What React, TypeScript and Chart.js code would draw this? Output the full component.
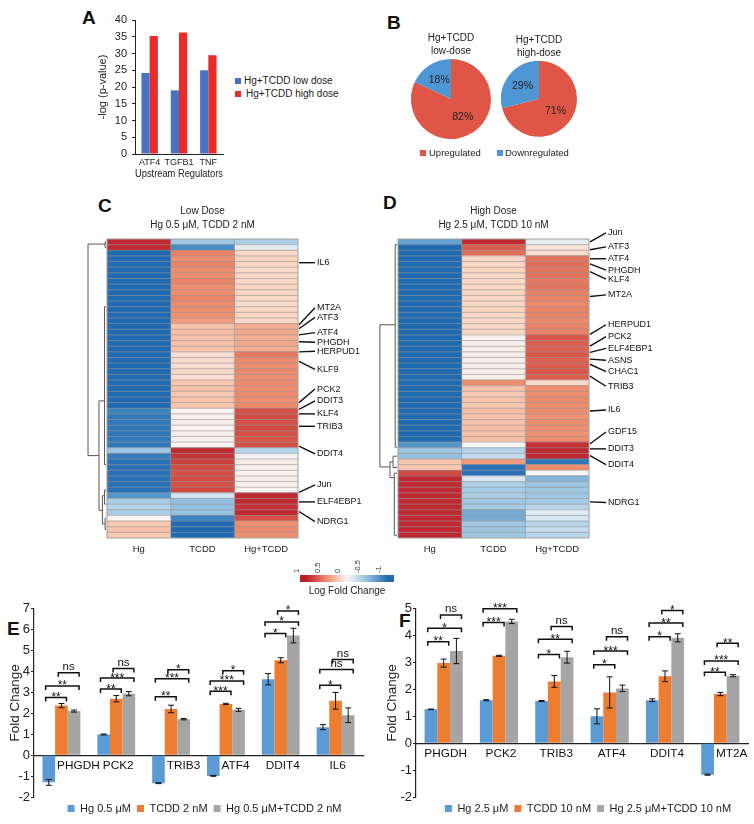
import React, { useEffect, useRef } from "react";
import { Chart, registerables } from "chart.js";
Chart.register(...registerables);

const FONT = "'Liberation Sans', Arial, Helvetica, sans-serif";
Chart.defaults.font.family = FONT;
Chart.defaults.color = "#222";

// ---------- Panel A ----------
const regulators = ["ATF4", "TGFB1", "TNF"];
const aSeriesNames = ["Hg+TCDD low dose", "Hg+TCDD high dose"];
const aLowDose = [24.2, 19.0, 25.0];
const aHighDose = [35.2, 36.3, 29.5];
const A_BLUE = "#4a72c4";
const A_RED = "#ec2a26";

// ---------- Panel B ----------
const pieLabels = ["Upregulated", "Downregulated"];
const pieLowDose = [82, 18];
const pieHighDose = [71, 29];
const PIE_RED = "#e05646";
const PIE_BLUE = "#4f96d4";

// ---------- Panels C / D (heatmaps) ----------
const heatCols = ["Hg", "TCDD", "Hg+TCDD"];
const lowHg = [0.95, 0.95, -1, -1, -1, -1, -1, -1, -1, -1, -1, -1, -1, -1, -1, -1, -1, -1, -1, -1, -1, -1, -1, -1, -1, -1, -1, -1, -1, -1, -0.8, -0.9, -0.9, -0.9, -0.9, -0.9, -0.9, -0.45, -0.85, -0.95, -0.95, -0.95, -0.95, -0.95, -0.95, -0.7, -0.4, -0.35, -0.4, 0.0, 0.28, 0.3, 0.28];
const lowTCDD = [-0.45, -0.75, 0.55, 0.5, 0.55, 0.5, 0.5, 0.55, 0.5, 0.5, 0.55, 0.5, 0.5, 0.48, 0.45, 0.3, 0.32, 0.3, 0.3, 0.3, 0.15, 0.18, 0.15, 0.18, 0.15, 0.28, 0.3, 0.28, 0.3, 0.28, 0.02, 0.03, 0.05, 0.02, 0.04, 0.03, 0.02, 0.95, 0.9, 0.85, 0.8, 0.78, 0.8, 0.78, 0.82, -0.25, -0.5, -0.5, -0.48, -0.8, -1, -1, -1];
const lowMix = [-0.4, -0.12, 0.2, 0.22, 0.2, 0.18, 0.2, 0.2, 0.22, 0.2, 0.2, 0.18, 0.2, 0.22, 0.2, 0.38, 0.4, 0.38, 0.4, 0.38, 0.6, 0.52, 0.5, 0.52, 0.5, 0.52, 0.5, 0.52, 0.5, 0.52, 0.78, 0.8, 0.78, 0.8, 0.78, 0.76, 0.78, -0.35, -0.05, 0.05, 0.04, 0.03, 0.05, 0.04, 0.02, 0.95, 0.95, 0.92, 0.95, 0.78, 0.5, 0.52, 0.5];

const highHg = [-0.65, -1, -1, -1, -1, -1, -1, -1, -1, -1, -1, -1, -1, -1, -1, -1, -1, -1, -1, -1, -1, -1, -1, -1, -1, -1, -1, -1, -1, -1, -1, -1, -1, -1, -1, -1, -0.7, -0.45, -0.5, 0.3, 0.28, 0.8, 0.95, 0.95, 0.95, 0.95, 0.95, 0.95, 0.95, 0.95, 0.95, 0.95, 0.95];
const highTCDD = [0.95, 0.72, 0.65, 0.2, 0.2, 0.22, 0.2, 0.2, 0.2, 0.22, 0.2, 0.2, 0.22, 0.2, 0.2, 0.2, 0.22, 0.02, 0.05, 0.06, 0.05, 0.06, 0.05, 0.06, 0.05, 0.5, 0.3, 0.28, 0.3, 0.28, 0.32, 0.3, 0.3, 0.32, 0.3, 0.32, 0.0, -0.35, -0.3, 0.45, -0.95, -0.95, -0.2, -0.4, -0.42, -0.4, -0.45, -0.42, -0.6, -0.6, -0.45, -0.45, -0.45];
const highMix = [-0.12, 0.12, 0.15, 0.62, 0.65, 0.62, 0.62, 0.6, 0.62, 0.55, 0.55, 0.52, 0.55, 0.55, 0.52, 0.55, 0.55, 0.75, 0.72, 0.7, 0.75, 0.7, 0.72, 0.75, 0.72, 0.18, 0.5, 0.5, 0.52, 0.5, 0.5, 0.48, 0.5, 0.5, 0.48, 0.5, 0.92, 0.95, 0.95, -0.9, 0.5, 0.0, -0.55, -0.45, -0.45, -0.45, -0.42, -0.35, -0.15, -0.2, -0.35, -0.3, -0.35];

// gene label: [name, row it points to, row where the label sits]
const lowGenes: [string, number, number][] = [
  ["IL6", 4.2, 4.2], ["MT2A", 15.2, 12.2], ["ATF3", 15.9, 13.9], ["ATF4", 17, 16.6],
  ["PHGDH", 18.2, 18.3], ["HERPUD1", 20, 19.9], ["KLF9", 21.7, 23.1], ["PCK2", 29, 26.6],
  ["DDIT3", 30.2, 28.7], ["KLF4", 31, 31], ["TRIB3", 33.2, 33.2], ["DDIT4", 36.7, 38.1],
  ["Jun", 44.9, 43.6], ["ELF4EBP1", 46.6, 46.6], ["NDRG1", 48.3, 50.1],
];
const highGenes: [string, number, number][] = [
  ["Jun", 0.5, -1.1], ["ATF3", 1.9, 1.4], ["ATF4", 3.5, 3.5], ["PHGDH", 4.4, 5.5],
  ["KLF4", 5.8, 7.1], ["MT2A", 10.2, 9.9], ["HERPUD1", 16.9, 15.2], ["PCK2", 19, 17.3],
  ["ELF4EBP1", 20.1, 19.4], ["ASNS", 21.3, 21.5], ["CHAC1", 22.2, 23.5], ["TRIB3", 24.3, 26.1],
  ["IL6", 30.5, 30.3], ["GDF15", 36.3, 34.2], ["DDIT3", 37.2, 37.2], ["DDIT4", 38.4, 40],
  ["NDRG1", 46.6, 46.7],
];
// dendrogram links: [top row, bottom row, merge height, top child height, bottom child height]
const lowDendro: number[][] = [
  [0.9, 38.4, 1.0, 0.05, 0.39], [28.7, 48.1, 0.39, 0.08, 0.2], [12, 40, 0.08, 0, 0],
  [45.5, 50.5, 0.2, 0.08, 0.05], [44.5, 47, 0.08, 0, 0], [49.5, 51.5, 0.05, 0, 0], [0.5, 1.5, 0.05, 0, 0],
];
const highDendro: number[][] = [
  [15.2, 40.4, 0.95, 0.1, 0.39], [1, 36.9, 0.1, 0, 0], [39.5, 42.3, 0.39, 0.22, 0.15],
  [38.5, 40.5, 0.22, 0, 0], [41.5, 52.5, 0.15, 0, 0],
];
const colorbarTicks = [1, 0.5, 0, -0.5, -1];

// ---------- Panels E / F ----------
const seriesE = ["Hg 0.5 μM", "TCDD 2 nM", "Hg 0.5 μM+TCDD 2 nM"];
const genesE = ["PHGDH", "PCK2", "TRIB3", "ATF4", "DDIT4", "IL6"];
const eHg = [-1.3, 0.99, -1.34, -0.99, 3.63, 1.34];
const eHgErr = [0.14, 0.02, 0.02, 0.02, 0.27, 0.12];
const eTCDD = [2.37, 2.7, 2.21, 2.45, 4.54, 2.6];
const eTCDDErr = [0.1, 0.15, 0.18, 0.03, 0.12, 0.4];
const eMix = [2.11, 2.94, 1.72, 2.17, 5.72, 1.91];
const eMixErr = [0.05, 0.1, 0.03, 0.07, 0.35, 0.35];
// [category, series a, series b, bracket level, label]
const eSig: [number, number, number, number, string][] = [
  [0, 0, 1, 2.76, "**"], [0, 0, 2, 3.31, "**"], [0, 1, 2, 3.94, "ns"],
  [1, 0, 1, 3.16, "**"], [1, 0, 2, 3.69, "***"], [1, 1, 2, 4.14, "ns"],
  [2, 0, 1, 2.8, "**"], [2, 0, 2, 3.65, "***"], [2, 1, 2, 4.08, "*"],
  [3, 0, 1, 3.06, "***"], [3, 0, 2, 3.55, "***"], [3, 1, 2, 4.04, "*"],
  [4, 0, 1, 5.82, "*"], [4, 0, 2, 6.37, "*"], [4, 1, 2, 6.9, "*"],
  [5, 0, 1, 3.35, "*"], [5, 0, 2, 4.1, "ns"], [5, 1, 2, 4.58, "ns"],
];

const seriesF = ["Hg 2.5 μM", "TCDD 10 nM", "Hg 2.5 μM+TCDD 10 nM"];
const genesF = ["PHGDH", "PCK2", "TRIB3", "ATF4", "DDIT4", "MT2A"];
const fHg = [1.26, 1.6, 1.57, 1.0, 1.6, -1.17];
const fHgErr = [0.01, 0.02, 0.02, 0.28, 0.05, 0.02];
const fTCDD = [2.98, 3.25, 2.3, 1.89, 2.49, 1.83];
const fTCDDErr = [0.15, 0.02, 0.22, 0.58, 0.2, 0.06];
const fMix = [3.43, 4.53, 3.2, 2.04, 3.92, 2.51];
const fMixErr = [0.47, 0.08, 0.22, 0.12, 0.15, 0.04];
const fSig: [number, number, number, number, string][] = [
  [0, 0, 1, 3.77, "**"], [0, 0, 2, 4.28, "*"], [0, 1, 2, 4.77, "ns"],
  [1, 0, 1, 4.49, "***"], [1, 0, 2, 5.0, "***"], [1, 1, 2, 5.66, "**"],
  [2, 0, 1, 3.3, "*"], [2, 0, 2, 3.87, "**"], [2, 1, 2, 4.34, "ns"],
  [3, 0, 1, 2.92, "*"], [3, 0, 2, 3.43, "***"], [3, 1, 2, 3.96, "ns"],
  [4, 0, 1, 3.96, "*"], [4, 0, 2, 4.47, "**"], [4, 1, 2, 4.94, "*"],
  [5, 0, 1, 2.64, "**"], [5, 0, 2, 3.06, "***"], [5, 1, 2, 3.72, "**"],
];
const BAR_BLUE = "#5b9bd5";
const BAR_ORANGE = "#ed7d31";
const BAR_GRAY = "#a5a5a5";

// ---------- helpers ----------
const heatStops: [number, number[]][] = [
  [-1, [32, 106, 178]], [-0.75, [70, 140, 196]], [-0.5, [146, 192, 224]], [-0.25, [208, 227, 241]],
  [0, [248, 246, 245]], [0.25, [250, 208, 185]], [0.5, [239, 142, 110]], [0.75, [216, 86, 72]], [1, [186, 30, 45]],
];
function heatColor(v: number): string {
  if (v <= heatStops[0][0]) return `rgb(${heatStops[0][1].join(",")})`;
  for (let i = 1; i < heatStops.length; i++) {
    const [v1, c1] = heatStops[i];
    const [v0, c0] = heatStops[i - 1];
    if (v <= v1) {
      const t = (v - v0) / (v1 - v0);
      const c = c0.map((a, k) => Math.round(a + (c1[k] - a) * t));
      return `rgb(${c.join(",")})`;
    }
  }
  return `rgb(${heatStops[heatStops.length - 1][1].join(",")})`;
}

function heatPlugin(genes: [string, number, number][], dendro: number[][]) {
  return {
    id: "heatDecor",
    afterDatasetsDraw(chart: any) {
      const { ctx, chartArea: a, scales } = chart;
      const x = scales.x;
      const y = scales.y;
      const n = chart.data.labels.length;
      const rowH = y.getPixelForValue(1) - y.getPixelForValue(0);
      const top = y.getPixelForValue(0) - rowH / 2;
      const rowPx = (r: number) => top + r * rowH;
      ctx.save();
      ctx.strokeStyle = "rgba(150,150,150,0.9)";
      ctx.lineWidth = 0.7;
      ctx.beginPath();
      for (let i = 1; i < n; i++) {
        const yy = rowPx(i);
        ctx.moveTo(a.left, yy);
        ctx.lineTo(a.right, yy);
      }
      for (let c = 1; c < heatCols.length; c++) {
        const xx = x.getPixelForValue(c);
        ctx.moveTo(xx, a.top);
        ctx.lineTo(xx, a.bottom);
      }
      ctx.stroke();
      ctx.lineWidth = 1;
      ctx.strokeStyle = "rgba(160,160,160,1)";
      ctx.strokeRect(a.left, a.top, a.right - a.left, a.bottom - a.top);
      // dendrogram
      const hx = (h: number) => a.left - 1 - h * 18;
      ctx.strokeStyle = "#555";
      ctx.lineWidth = 1;
      ctx.beginPath();
      for (const [r1, r2, h, h1, h2] of dendro) {
        ctx.moveTo(hx(h1), rowPx(r1));
        ctx.lineTo(hx(h), rowPx(r1));
        ctx.lineTo(hx(h), rowPx(r2));
        ctx.lineTo(hx(h2), rowPx(r2));
      }
      ctx.stroke();
      // gene labels
      ctx.strokeStyle = "#111";
      ctx.lineWidth = 1.4;
      ctx.fillStyle = "#111";
      ctx.font = `9px ${FONT}`;
      ctx.textBaseline = "middle";
      ctx.textAlign = "left";
      for (const [name, r, lr] of genes) {
        ctx.beginPath();
        ctx.moveTo(a.right + 1, rowPx(r));
        ctx.lineTo(a.right + 17, rowPx(lr));
        ctx.stroke();
        ctx.fillText(name, a.right + 19, rowPx(lr));
      }
      ctx.restore();
    },
  };
}

function heatConfig(hg: number[], tc: number[], mix: number[], title: string[], genes: [string, number, number][], dendro: number[][], padL: number, padR: number) {
  const cols = [hg, tc, mix];
  return {
    type: "bar",
    data: {
      labels: hg.map((_, i) => String(i + 1)),
      datasets: cols.map((vals, c) => ({
        label: heatCols[c],
        data: vals.map(() => 1),
        backgroundColor: vals.map(heatColor),
        borderWidth: 0,
        barPercentage: 1,
        categoryPercentage: 1,
      })),
    },
    options: {
      indexAxis: "y",
      responsive: false,
      animation: false,
      layout: { padding: { left: padL, right: padR, top: 0, bottom: 0 } },
      plugins: {
        legend: { display: false },
        tooltip: { enabled: false },
        title: {
          display: true,
          text: title,
          font: { size: 10, weight: "normal", lineHeight: 1.4 },
          color: "#222",
          padding: { top: 14, bottom: 7 },
        },
      },
      scales: {
        x: {
          type: "linear",
          stacked: true,
          min: 0,
          max: 3,
          grid: { display: false, drawTicks: false },
          border: { display: false },
          afterBuildTicks: (s: any) => {
            s.ticks = heatCols.map((_, i) => ({ value: i + 0.5 }));
          },
          ticks: {
            callback: (_v: any, i: number) => heatCols[i],
            font: { size: 9.5 },
            color: "#222",
            padding: 6,
            autoSkip: false,
            maxRotation: 0,
          },
          afterFit: (s: any) => {
            s.height = 22;
          },
        },
        y: { stacked: true, display: false },
      },
    },
    plugins: [heatPlugin(genes, dendro)],
  };
}

function colorbarConfig() {
  return {
    type: "bar",
    data: {
      labels: ["Log Fold Change"],
      datasets: [
        {
          data: [[-1.15, 1.15]],
          backgroundColor: (c: any) => {
            const chart = c.chart;
            if (!chart.chartArea) return "#ccc";
            const xs = chart.scales.x;
            const g = chart.ctx.createLinearGradient(xs.getPixelForValue(1), 0, xs.getPixelForValue(-1), 0);
            colorbarTicks.forEach((v, i) => g.addColorStop(i / (colorbarTicks.length - 1), heatColor(v)));
            return g;
          },
          borderWidth: 0,
          barPercentage: 1,
          categoryPercentage: 1,
        },
      ],
    },
    options: {
      indexAxis: "y",
      responsive: false,
      animation: false,
      layout: { padding: { left: 10, right: 11, top: 0, bottom: 0 } },
      plugins: {
        legend: { display: false },
        tooltip: { enabled: false },
        title: {
          display: true,
          position: "bottom",
          text: "Log Fold Change",
          font: { size: 10, weight: "normal" },
          color: "#222",
          padding: { top: 3, bottom: 3 },
        },
      },
      scales: {
        x: {
          type: "linear",
          position: "top",
          min: -1.15,
          max: 1.15,
          reverse: true,
          afterBuildTicks: (s: any) => {
            s.ticks = colorbarTicks.map((v) => ({ value: v }));
          },
          ticks: {
            minRotation: 90,
            maxRotation: 90,
            font: { size: 7.5 },
            color: "#333",
            padding: 2,
            callback: (v: any) => String(v),
          },
          grid: { display: false, drawTicks: false },
          border: { display: false },
          afterFit: (s: any) => {
            s.height = 20;
          },
        },
        y: { display: false },
      },
    },
  };
}

const pctPlugin = {
  id: "pctLabels",
  afterDatasetsDraw(chart: any) {
    const { ctx } = chart;
    const meta = chart.getDatasetMeta(0);
    const ds = chart.data.datasets[0];
    ctx.save();
    ctx.font = `10.5px ${FONT}`;
    ctx.textAlign = "center";
    ctx.textBaseline = "middle";
    ctx.fillStyle = "#222";
    meta.data.forEach((arc: any, i: number) => {
      const p = arc.getProps(["x", "y", "startAngle", "endAngle", "outerRadius"], true);
      const mid = (p.startAngle + p.endAngle) / 2;
      ctx.fillText(ds.data[i] + "%", p.x + Math.cos(mid) * p.outerRadius * 0.55, p.y + Math.sin(mid) * p.outerRadius * 0.55);
    });
    ctx.restore();
  },
};

function pieConfig(values: number[], title: string[], padTop: number, padBottom: number, padSide: number) {
  return {
    type: "pie",
    data: {
      labels: pieLabels,
      datasets: [{ data: values, backgroundColor: [PIE_RED, PIE_BLUE], borderWidth: 0 }],
    },
    options: {
      responsive: false,
      animation: false,
      layout: { padding: { left: padSide, right: padSide, top: 0, bottom: 0 } },
      plugins: {
        legend: { display: false },
        tooltip: { enabled: false },
        title: {
          display: true,
          text: title,
          font: { size: 10, weight: "normal", lineHeight: 1.3 },
          color: "#222",
          padding: { top: padTop, bottom: padBottom },
        },
      },
    },
    plugins: [pctPlugin],
  };
}

function panelAConfig() {
  return {
    type: "bar",
    data: {
      labels: regulators,
      datasets: [
        { label: aSeriesNames[0], data: aLowDose, backgroundColor: A_BLUE, borderWidth: 0 },
        { label: aSeriesNames[1], data: aHighDose, backgroundColor: A_RED, borderWidth: 0 },
      ],
    },
    options: {
      responsive: false,
      animation: false,
      layout: { padding: { top: 15, right: 7, left: 0, bottom: 0 } },
      datasets: { bar: { categoryPercentage: 0.56, barPercentage: 1 } },
      plugins: { legend: { display: false }, tooltip: { enabled: false } },
      scales: {
        x: {
          grid: { display: false, drawTicks: false },
          border: { display: true, color: "#222" },
          ticks: { font: { size: 9 }, color: "#222", padding: 3, maxRotation: 0, minRotation: 0, autoSkip: false },
          title: { display: true, text: "Upstream Regulators", font: { size: 10 }, color: "#222", padding: { top: 0, bottom: 0 } },
          afterFit: (s: any) => {
            s.height = 26;
          },
        },
        y: {
          min: 0,
          max: 40,
          ticks: { stepSize: 5, font: { size: 11 }, color: "#222", padding: 5 },
          grid: { display: true, drawOnChartArea: false, drawTicks: true, tickLength: 3, color: "#222" },
          border: { display: true, color: "#222" },
          title: { display: true, text: "-log (p-value)", font: { size: 11 }, color: "#222", padding: { top: 11, bottom: 0 } },
          afterFit: (s: any) => {
            s.width = 50;
          },
        },
      },
    },
  };
}

const errorBarPlugin = {
  id: "errorBars",
  afterDatasetsDraw(chart: any) {
    const { ctx } = chart;
    const ys = chart.scales.y;
    ctx.save();
    ctx.strokeStyle = "#111";
    ctx.lineWidth = 1;
    chart.data.datasets.forEach((ds: any, di: number) => {
      const meta = chart.getDatasetMeta(di);
      meta.data.forEach((el: any, i: number) => {
        const v = ds.data[i];
        const e = ds.errors[i];
        const y1 = ys.getPixelForValue(v - e);
        const y2 = ys.getPixelForValue(v + e);
        const x = el.x;
        ctx.beginPath();
        ctx.moveTo(x, y1);
        ctx.lineTo(x, y2);
        ctx.moveTo(x - 3, y1);
        ctx.lineTo(x + 3, y1);
        ctx.moveTo(x - 3, y2);
        ctx.lineTo(x + 3, y2);
        ctx.stroke();
      });
    });
    ctx.restore();
  },
};

function sigPlugin(sig: [number, number, number, number, string][]) {
  return {
    id: "sigBrackets",
    afterDatasetsDraw(chart: any) {
      const { ctx } = chart;
      const ys = chart.scales.y;
      ctx.save();
      ctx.strokeStyle = "#111";
      ctx.fillStyle = "#111";
      ctx.lineWidth = 1.5;
      ctx.textAlign = "center";
      ctx.textBaseline = "alphabetic";
      for (const [cat, sa, sb, level, text] of sig) {
        const ea = chart.getDatasetMeta(sa).data[cat];
        const eb = chart.getDatasetMeta(sb).data[cat];
        const x1 = ea.x - ea.width * 0.25;
        const x2 = eb.x + eb.width * 0.4;
        const y = ys.getPixelForValue(level);
        ctx.beginPath();
        ctx.moveTo(x1, y + 4);
        ctx.lineTo(x1, y);
        ctx.lineTo(x2, y);
        ctx.lineTo(x2, y + 4);
        ctx.stroke();
        const tx = (x1 + x2) / 2;
        if (text === "ns") {
          ctx.font = `11.5px ${FONT}`;
          ctx.fillText(text, tx, y - 2.5);
        } else {
          ctx.font = `12px ${FONT}`;
          ctx.fillText(text, tx, y + 3.5);
        }
      }
      ctx.restore();
    },
  };
}

const catLabelPlugin = {
  id: "catLabels",
  afterDatasetsDraw(chart: any) {
    const { ctx } = chart;
    const xs = chart.scales.x;
    const ys = chart.scales.y;
    const y0 = ys.getPixelForValue(0);
    ctx.save();
    ctx.font = `11.8px ${FONT}`;
    ctx.fillStyle = "#111";
    ctx.textBaseline = "middle";
    chart.data.labels.forEach((lab: string, i: number) => {
      const first = chart.getDatasetMeta(0).data[i];
      if (chart.data.datasets[0].data[i] < 0) {
        ctx.textAlign = "left";
        ctx.fillText(lab, first.x + first.width / 2 + 2, y0 + 11);
      } else {
        ctx.textAlign = "center";
        ctx.fillText(lab, xs.getPixelForValue(i) + 2, y0 + 11);
      }
    });
    ctx.restore();
  },
};

function foldConfig(labels: string[], names: string[], vals: number[][], errs: number[][], sig: [number, number, number, number, string][], yMin: number, yMax: number, yWidth: number, titlePad: number, rightW: number) {
  const colors = [BAR_BLUE, BAR_ORANGE, BAR_GRAY];
  return {
    type: "bar",
    data: {
      labels,
      datasets: vals.map((v, i) => ({
        label: names[i],
        data: v,
        errors: errs[i],
        backgroundColor: colors[i],
        borderWidth: 0,
        categoryPercentage: 0.69,
        barPercentage: 1,
      })),
    },
    options: {
      responsive: false,
      animation: false,
      layout: { padding: { top: 0, right: 0, left: 0, bottom: 0 } },
      plugins: {
        tooltip: { enabled: false },
        legend: {
          position: "bottom",
          labels: { boxWidth: 7, boxHeight: 7, padding: 6, font: { size: 11 }, color: "#222" },
        },
      },
      scales: {
        x: {
          position: { y: 0 },
          grid: { display: false, drawTicks: false },
          border: { display: true, color: "#222", width: 1.2 },
          ticks: { display: false },
        },
        y: {
          min: yMin,
          max: yMax,
          ticks: { stepSize: 1, font: { size: 13 }, color: "#222", padding: 1 },
          grid: { display: true, drawOnChartArea: false, drawTicks: true, tickLength: 3, color: "#222" },
          border: { display: true, color: "#222", width: 1.2 },
          title: { display: true, text: "Fold Change", font: { size: 13.5 }, color: "#222", padding: { top: titlePad, bottom: 0 } },
          afterFit: (s: any) => {
            s.width = yWidth;
          },
        },
        yR: {
          type: "linear",
          axis: "y",
          position: "right",
          grid: { display: false, drawTicks: false },
          border: { display: false },
          ticks: { display: false },
          afterFit: (s: any) => {
            s.width = rightW;
          },
        },
      },
    },
    plugins: [errorBarPlugin, sigPlugin(sig), catLabelPlugin],
  };
}

function ChartBox({ make, left, top, width, height }: { make: () => any; left: number; top: number; width: number; height: number }) {
  const ref = useRef<HTMLCanvasElement>(null);
  useEffect(() => {
    const chart = new Chart(ref.current as HTMLCanvasElement, make());
    return () => chart.destroy();
  }, []);
  return <canvas ref={ref} width={width} height={height} style={{ position: "absolute", left, top, width, height }} />;
}

const letterStyle = (left: number, top: number): React.CSSProperties => ({
  position: "absolute",
  left,
  top,
  font: `bold 19px ${FONT}`,
  lineHeight: "19px",
  color: "#111",
});
const textStyle = (left: number, top: number, size: number): React.CSSProperties => ({
  position: "absolute",
  left,
  top,
  font: `${size}px ${FONT}`,
  lineHeight: "12px",
  color: "#222",
  whiteSpace: "nowrap",
});
const sq = (left: number, top: number, color: string): React.CSSProperties => ({
  position: "absolute",
  left,
  top,
  width: 6,
  height: 6,
  background: color,
});

export default function App() {
  return (
    <div style={{ position: "absolute", left: 0, top: 0, width: 754, height: 824, overflow: "hidden", background: "#fff" }}>
      <div style={letterStyle(82, 7.5)}>A</div>
      <div style={letterStyle(387, 12.5)}>B</div>
      <div style={letterStyle(98, 195.5)}>C</div>
      <div style={letterStyle(383, 192.5)}>D</div>
      <div style={letterStyle(7, 618.5)}>E</div>
      <div style={letterStyle(399, 610.5)}>F</div>

      <ChartBox make={panelAConfig} left={85} top={5} width={145} height={175} />
      <div style={sq(235, 78, A_BLUE)} />
      <div style={textStyle(244, 75, 10)}>{aSeriesNames[0]}</div>
      <div style={sq(235, 91, A_RED)} />
      <div style={textStyle(246, 88, 10)}>{aSeriesNames[1]}</div>

      <ChartBox make={() => pieConfig(pieLowDose, ["Hg+TCDD", "low-dose"], 6.5, 1.5, 6)} left={405} top={25} width={92} height={114} />
      <ChartBox make={() => pieConfig(pieHighDose, ["Hg+TCDD", "high-dose"], 8.5, 1, 7)} left={494} top={25} width={90} height={112} />
      <div style={sq(420, 150, PIE_RED)} />
      <div style={textStyle(429, 147, 9.5)}>{pieLabels[0]}</div>
      <div style={sq(497, 150, PIE_BLUE)} />
      <div style={textStyle(505, 147, 9.5)}>{pieLabels[1]}</div>

      <ChartBox make={() => heatConfig(lowHg, lowTCDD, lowMix, ["Low Dose", "Hg 0.5 μM, TCDD 2 nM"], lowGenes, lowDendro, 27, 72)} left={80} top={190} width={290} height={370} />
      <ChartBox make={() => heatConfig(highHg, highTCDD, highMix, ["High Dose", "Hg 2.5 μM, TCDD 10 nM"], highGenes, highDendro, 28, 81)} left={370} top={190} width={300} height={370} />
      <ChartBox make={colorbarConfig} left={290} top={555} width={115} height={45} />

      <ChartBox make={() => foldConfig(genesE, seriesE, [eHg, eTCDD, eMix], [eHgErr, eTCDDErr, eMixErr], eSig, -2, 7, 34, 7, 46)} left={0} top={600} width={409} height={224} />
      <ChartBox make={() => foldConfig(genesF, seriesF, [fHg, fTCDD, fMix], [fHgErr, fTCDDErr, fMixErr], fSig, -2, 5, 40, 8, 52)} left={376} top={600} width={424} height={224} />
    </div>
  );
}
